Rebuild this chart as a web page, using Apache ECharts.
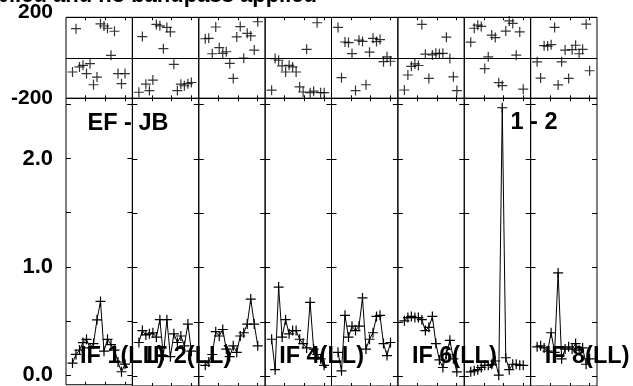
<!DOCTYPE html>
<html><head><meta charset="utf-8">
<script src="https://cdn.jsdelivr.net/npm/echarts@6/dist/echarts.min.js"></script>
<style>html,body{margin:0;padding:0;background:#fff;overflow:hidden}#c{width:633px;height:386px}</style>
</head><body><div id="c"></div>
<script>
// ---------- data ----------
const channels = [1,2,3,4,5,6,7,8,9,10,11,12,13,14,15,16];
const ifLabels = ['IF 1(LL)','IF 2(LL)','','IF 4(LL)','','IF 6(LL)','','IF 8(LL)'];
const titleText = 'Calibration applied and no bandpass applied';
const baselineText = 'EF - JB';
const sourceText = '1 - 2';

const phaseIF1 = [-70, 144, -45, -37, -78, -29, -133, -95, 168, 157, 146, 12, 131, -78, -128, -78];
const phaseIF2 = [-170, 105, -130, -162, -110, 165, 158, 45, 150, 128, -32, -162, -130, -138, -128, -122];
const phaseIF3 = [94, 96, 20, 152, 50, 22, 30, -28, -102, 103, 154, -2, 121, 108, 38, 178];
const phaseIF4 = [-160, -4, -12, -40, -70, -37, -45, -70, -144, -169, 42, -172, -165, 173, -172, -172];
const phaseIF5 = [150, -98, 78, 75, 21, -162, 87, 81, -133, 28, 96, 80, 90, -19, 5, -17];
const phaseIF6 = [-159, -85, -42, -30, -38, 165, 18, -102, 14, 22, 20, 22, 102, -3, -94, -162];
const phaseIF7 = [77, 146, 161, 155, -53, 5, 112, 100, -123, -137, 132, 182, 170, 13, 128, -155];
const phaseIF8 = [-20, -100, 60, 58, 65, 150, -134, -20, 38, -102, 40, 62, 20, 42, 166, -64];

const ampIF1 = [0.11, 0.19, 0.23, 0.30, 0.33, 0.25, 0.29, 0.51, 0.68, 0.22, 0.33, 0.28, 0.23, 0.12, 0.03, 0.10];
const ampIF2 = [0.31, 0.42, 0.38, 0.39, 0.40, 0.36, 0.52, 0.19, 0.52, 0.18, 0.39, 0.31, 0.37, 0.28, 0.48, 0.23];
const ampIF3 = [0.10, 0.13, 0.20, 0.41, 0.37, 0.43, 0.25, 0.18, 0.28, 0.22, 0.37, 0.40, 0.48, 0.71, 0.48, 0.28];
const ampIF4 = [0.34, 0.06, 0.82, 0.36, 0.52, 0.39, 0.42, 0.42, 0.34, 0.30, 0.26, 0.68, 0.25, 0.20, 0.16, 0.10];
const ampIF5 = [0.22, 0.05, 0.56, 0.36, 0.46, 0.42, 0.46, 0.72, 0.25, 0.34, 0.40, 0.55, 0.56, 0.30, 0.19, 0.31];
const ampIF6 = [0.51, 0.54, 0.55, 0.54, 0.54, 0.52, 0.42, 0.45, 0.55, 0.30, 0.15, 0.08, 0.20, 0.33, 0.16, 0.04];
const ampIF7 = [0.04, 0.05, 0.06, 0.08, 0.10, 0.10, 0.11, 0.14, 0.01, 2.47, 0.17, 0.06, 0.11, 0.11, 0.10, 0.10];
const ampIF8 = [0.27, 0.28, 0.26, 0.23, 0.40, 0.22, 0.95, 0.16, 0.25, 0.27, 0.25, 0.30, 0.24, 0.26, 0.11, 0.16];

const phaseTickLabels = [-200, 200];
const ampTickValues = [0, 0.5, 1.0, 1.5, 2.0, 2.5];
const ampLabelValues = [0, 1.0, 2.0];
const chanTickValues = [4.75, 10.35, 15.95];

const phaseSets = [phaseIF1, phaseIF2, phaseIF3, phaseIF4, phaseIF5, phaseIF6, phaseIF7, phaseIF8];
const ampSets = [ampIF1, ampIF2, ampIF3, ampIF4, ampIF5, ampIF6, ampIF7, ampIF8];

// ---------- layout ----------
const FONT = '"Liberation Sans", Arial, Helvetica, sans-serif';
const L0 = 66, PW = 66.375;
const PH_TOP = 17.3, PH_H = 81;
const AM_TOP = 98.3, AM_H = 289;
const X_MIN = -0.857, X_MAX = 18.107;
const AMP_MIN = -0.09, AMP_MAX = 2.557;
const CROSS = 'path://M0 5L10 5M5 0L5 10';

const chart = echarts.init(document.getElementById('c'));
const grids = [], xAxes = [], yAxes = [], series = [], graphics = [];

function xAx(g, pos) {
  return {type:'value', gridIndex:g, position:pos, min:X_MIN, max:X_MAX,
    axisLine:{show:false, onZero:false},
    axisTick:{show:true, inside:true, length:3, customValues:chanTickValues, lineStyle:{color:'#000', width:1}},
    axisLabel:{show:false}, splitLine:{show:false}};
}

for (let i = 0; i < 8; i++) {
  const left = L0 + i * PW;
  // phase panel
  const gp = grids.length;
  grids.push({left:left, top:PH_TOP, width:PW, height:PH_H, show:true, borderColor:'#000', borderWidth:1, backgroundColor:'transparent'});
  const xp = xAxes.length;
  xAxes.push(xAx(gp, 'bottom'), xAx(gp, 'top'));
  const yp = yAxes.length;
  yAxes.push({type:'value', gridIndex:gp, position:'left', min:-200, max:200, interval:200,
    axisLine:{show:false, onZero:false}, axisTick:{show:false},
    splitLine:{show:true, lineStyle:{color:'#000', width:1}},
    axisLabel:{show:i===0, margin:13, showMinLabel:true, showMaxLabel:true,
      formatter: v => phaseTickLabels.indexOf(v) < 0 ? '' : (v > 0 ? '{t|' + v + '}' : '{m|' + v + '}'),
      rich:{
        t:{fontSize:21, fontWeight:'bold', fontFamily:FONT, color:'#000', padding:[0,0,11,0]},
        m:{fontSize:21, fontWeight:'bold', fontFamily:FONT, color:'#000'}
      }}});
  series.push({type:'scatter', xAxisIndex:xp, yAxisIndex:yp, symbol:CROSS, symbolSize:10,
    itemStyle:{color:'#000', borderColor:'#000', borderWidth:1.2}, silent:true,
    emphasis:{disabled:true},
    data: channels.map((c, k) => [c, phaseSets[i][k]])});

  // amplitude panel
  const ga = grids.length;
  grids.push({left:left, top:AM_TOP, width:PW, height:AM_H, show:true, borderColor:'#000', borderWidth:1, backgroundColor:'transparent'});
  const xa = xAxes.length;
  xAxes.push(xAx(ga, 'bottom'), xAx(ga, 'top'));
  const ya = yAxes.length;
  const ampY = (pos, lbl) => ({type:'value', gridIndex:ga, position:pos, min:AMP_MIN, max:AMP_MAX,
    axisLine:{show:false, onZero:false},
    axisTick:{show:true, inside:true, length:5, customValues:ampTickValues, lineStyle:{color:'#000', width:1}},
    axisLabel:{show:lbl, customValues:ampLabelValues, formatter: v => v.toFixed(1), margin:13,
      fontSize:22, fontWeight:'bold', fontFamily:FONT, color:'#000'},
    splitLine:{show:false}});
  yAxes.push(ampY('left', i === 0), ampY('right', false));
  series.push({type:'line', xAxisIndex:xa, yAxisIndex:ya, symbol:CROSS, symbolSize:10, showSymbol:true,
    lineStyle:{color:'#000', width:1}, itemStyle:{color:'#000', borderColor:'#000', borderWidth:1.2},
    silent:true, emphasis:{disabled:true},
    data: channels.map((c, k) => [c, ampSets[i][k]])});

  if (ifLabels[i]) {
    graphics.push({type:'text', x:left + 14, y:356.5, z:100,
      style:{text:ifLabels[i], font:'bold 23.5px ' + FONT, fill:'#000', textAlign:'left', textVerticalAlign:'middle', align:'left', verticalAlign:'middle'}});
  }
}

graphics.push({type:'text', x:317, y:-4.4, z:100,
  style:{text:titleText, font:'bold 22px ' + FONT, fill:'#000', textAlign:'right', textVerticalAlign:'middle', align:'right', verticalAlign:'middle'}});
graphics.push({type:'text', x:87.5, y:124, z:100,
  style:{text:baselineText, font:'bold 23.5px ' + FONT, fill:'#000', textAlign:'left', textVerticalAlign:'middle', align:'left', verticalAlign:'middle'}});
graphics.push({type:'text', x:510.5, y:123, z:100,
  style:{text:sourceText, font:'bold 23.5px ' + FONT, fill:'#000', textAlign:'left', textVerticalAlign:'middle', align:'left', verticalAlign:'middle'}});

chart.setOption({
  animation:false,
  backgroundColor:'#fff',
  grid:grids, xAxis:xAxes, yAxis:yAxes, series:series,
  graphic:graphics
});
</script></body></html>
